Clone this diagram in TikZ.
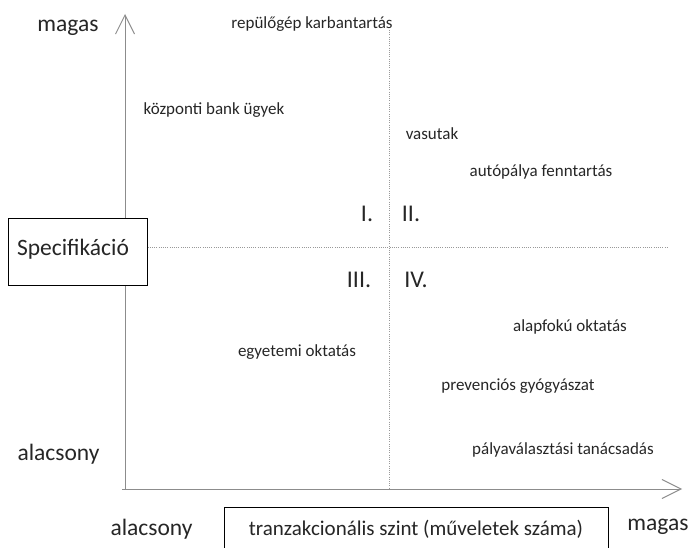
\documentclass[tikz,border=0pt]{standalone}
\usepackage{fontspec}
\setmainfont{Carlito}
\usetikzlibrary{calc}
\usetikzlibrary{arrows.meta}
\tikzset{Axis Line/.style = {line width = 1pt, gray!90, -{Straight Barb[length = 19pt, width = 19pt]}}}
\tikzset{Quad Line/.style = {line width = 1pt, gray!80, dash pattern = on 1pt off 1.2pt}}
\tikzset{Small Label/.style = {anchor = base, font = \fontsize{17}{20}\selectfont, text = black!85}}
\tikzset{Big Label/.style = {anchor = base, font = \fontsize{23.5}{26}\selectfont, text = black!85}}
\tikzset{Roman Label/.style = {font = \fontsize{24}{26}\selectfont, text = black!85}}
\tikzset{Label Box/.style = {draw, line width = 1pt, fill = white}}

\begin{document}
\begin{tikzpicture}[x = 1pt, y = -1pt]
  \useasboundingbox (0, 0) rectangle (690, 548);
  \coordinate (O) at (125, 489);
  \coordinate (YT) at (125, 14);
  \coordinate (XT) at (682, 489);
  \coordinate (V1) at (389, 30);
  \coordinate (V2) at (389, 489);
  \coordinate (H2) at (668, 247);

  \draw[Quad Line] (V1) -- (V2);
  \draw[Axis Line] (O) -- (YT);
  \draw[Axis Line] ($(O) + (-3, 0)$) -- (XT);

  \node[Label Box, minimum width = 139, minimum height = 67] (spec) at (77.5, 251.5) {};
  \node[Big Label] (spect) at (73, 255) {Specifik\'aci\'o};
  \draw[Quad Line] (spec.east |- H2) -- (H2);

  \draw[Label Box] (224, 560) |- (608, 507) coordinate (bx) -- (608, 560);
  \node[Big Label, font = \fontsize{21}{24}\selectfont] (tr) at (416, 535) {tranzakcion\'alis szint (műveletek sz\'ama)};

  \node[Big Label] (ymag) at (68, 32) {magas};
  \node[Big Label] (yala) at (58.5, 460) {alacsony};
  \node[Big Label] (xala) at (151.5, 535) {alacsony};
  \node[Big Label] (xmag) at (658, 530) {magas};

  \node[Roman Label] (q1) at (367, 214) {I.};
  \node[Roman Label] (q2) at (411, 214) {II.};
  \node[Roman Label] (q3) at (359, 280) {III.};
  \node[Roman Label] (q4) at (416, 280) {IV.};

  \node[Small Label] (rep) at (312, 29) {repülőgép karbantartás};
  \node[Small Label] (bank) at (214, 115) {központi bank ügyek};
  \node[Small Label] (vas) at (432, 140) {vasutak};
  \node[Small Label] (aut) at (541, 177) {autópálya fenntartás};
  \node[Small Label] (alap) at (570, 331) {alapfokú oktatás};
  \node[Small Label] (egy) at (297, 356) {egyetemi oktatás};
  \node[Small Label] (prev) at (518, 390) {prevenciós gyógyászat};
  \node[Small Label] (paly) at (563, 454) {pályaválasztási tanácsadás};
\end{tikzpicture}
\end{document}
